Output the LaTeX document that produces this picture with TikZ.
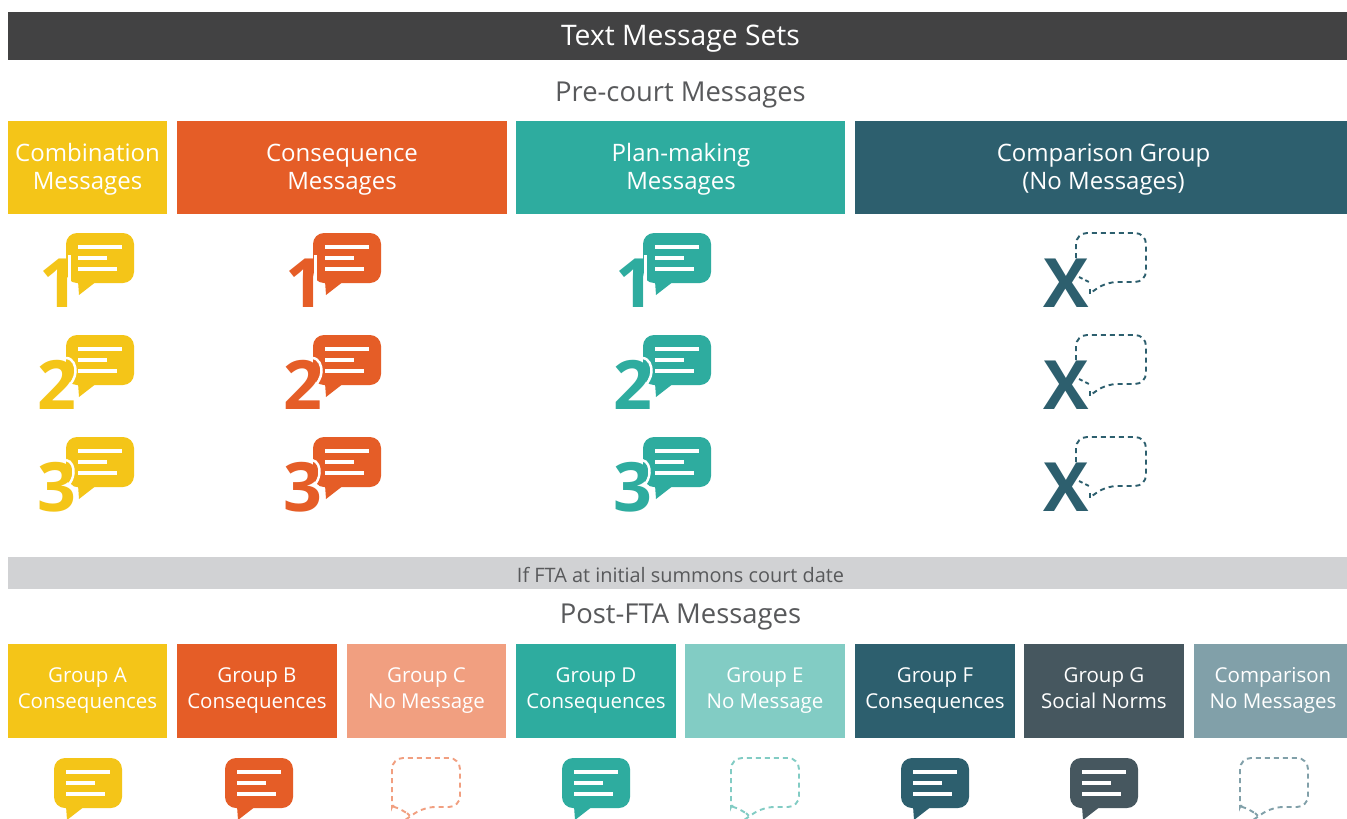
\documentclass[tikz,border=0pt]{standalone}
\usepackage{fontspec}
\setmainfont{Open Sans}
\definecolor{cDark}{HTML}{424243}
\definecolor{cGrey}{HTML}{D1D2D4}
\definecolor{cTitle}{HTML}{58595B}
\definecolor{cYel}{HTML}{F4C518}
\definecolor{cOra}{HTML}{E55D27}
\definecolor{cOraL}{HTML}{F19F80}
\definecolor{cTea}{HTML}{2EAC9F}
\definecolor{cTeaL}{HTML}{82CCC4}
\definecolor{cNav}{HTML}{2D5F6E}
\definecolor{cSla}{HTML}{46575F}
\definecolor{cCmp}{HTML}{81A0A9}
\tikzset{
  x=1pt,y=-1pt,
  title/.style={font=\fontsize{27.4}{30}\selectfont,text=cTitle,inner sep=0pt},
  hlab/.style={font=\fontsize{24}{28.5}\selectfont,text=white,align=center,inner sep=0pt},
  glab/.style={font=\fontsize{20.5}{26}\selectfont,text=white,align=center,inner sep=0pt},
  numlab/.style={font=\fontsize{68}{68}\bfseries\selectfont,inner sep=0pt,anchor=base},
  dashline/.style={line width=1.9pt,dash pattern=on 5pt off 4pt},
  halo/.style={white,line width=2.5pt},
}
% solid bubble: #1 x of left edge, #2 y of top edge, #3 colour
\newcommand{\solidbub}[3]{%
  \begin{scope}[shift={(#1,#2)}]
    \fill[#3,rounded corners=11pt] (0,0) rectangle (68,50);
    \fill[#3] (12,48) -- (13,62) -- (31,48) -- cycle;
    \draw[white,line width=3.2pt] (12,14) -- (56,14) (12,25) -- (41,25) (12,36) -- (51,36);
  \end{scope}}
\newcommand{\dashbub}[3]{%
  \begin{scope}[shift={(#1,#2)}]
    \draw[#3,dashline,rounded corners=11pt]
      (15,55) -- (10,50) .. controls (4,49) and (0,46) .. (0,38) -- (0,0) -- (68,0) -- (68,49) -- (32,49) -- (13,62);
  \end{scope}}
\newcommand{\xbub}[2]{%
  \begin{scope}[shift={(#1,#2)}]
    \draw[cNav,dashline,rounded corners=11pt]
      (0,25) -- (0,0) -- (70,0) -- (70,49) -- (30,49) -- (16,59);
    \draw[cNav,dashline,dash pattern=on 4pt off 3pt] (3,44) -- (15,50);
    \draw[cNav,dashline] (14,56) -- (14,61);
  \end{scope}}
% white edge between a digit and its bubble: #1 x of digit centre, #2 baseline, #3 digit
\newcommand{\digithalo}[3]{%
  \begin{scope}[shift={(#1,#2)}]
    \ifcase#3\or
      \draw[halo] (12.5,-52) -- (12.5,-22);
    \or
      \draw[halo] (9,-51) .. controls (16,-51) and (19,-43) .. (18.5,-37) .. controls (18,-31) and (15,-26) .. (9,-20);
    \or
      \draw[halo] (9,-51) .. controls (15,-50) and (17,-43) .. (16.5,-38) .. controls (16,-33) and (14,-29) .. (12,-27) .. controls (16,-24) and (19,-20) .. (19,-14);
    \fi
  \end{scope}}
\begin{document}
\begin{tikzpicture}
\useasboundingbox (0,0) rectangle (1347,819);
\fill[white] (0,0) rectangle (1347,819);
% header bands
\fill[cDark] (8,12) rectangle (1347,60);
\node[font=\fontsize{28.3}{30}\selectfont,text=white,inner sep=0pt] (tms) at (680.5,39) {Text Message Sets};
\node[title] (pre) at (680.5,95) {Pre-court Messages};
% column heads
\fill[cYel] (8,121) rectangle (167,214);
\fill[cOra] (177,121) rectangle (507,214);
\fill[cTea] (516,121) rectangle (845,214);
\fill[cNav] (855,121) rectangle (1347,214);
\node[hlab] (h1) at (87.5,169.5) {Combination\\Messages};
\node[hlab] (h2) at (342,169.5) {Consequence\\Messages};
\node[hlab] (h3) at (681,169.5) {Plan-making\\Messages};
\node[hlab] (h4) at (1103.5,169.5) {Comparison Group\\(No Messages)};
% message rows
\foreach \yy in {233,335,437}{
  \solidbub{66}{\yy}{cYel}
  \solidbub{313}{\yy}{cOra}
  \solidbub{643}{\yy}{cTea}
  \xbub{1076}{\yy}
}
\foreach \yy/\nn/\dd in {307/1/1.5,409/2/0,511/3/0}{
  \digithalo{57}{\yy}{\nn}
  \digithalo{303}{\yy}{\nn}
  \digithalo{633}{\yy}{\nn}
  \node[numlab,text=cYel] (ny\nn) at (57+\dd,\yy) {\nn};
  \node[numlab,text=cOra] (no\nn) at (303+\dd,\yy) {\nn};
  \node[numlab,text=cTea] (nt\nn) at (633+\dd,\yy) {\nn};
  \node[numlab,text=cNav] (nx\nn) at (1066.5,\yy) {X};
}
% divider
\fill[cGrey] (8,557) rectangle (1347,589);
\node[font=\fontsize{19.9}{22}\selectfont,text=cTitle,inner sep=0pt] (fta) at (680.5,575) {If FTA at initial summons court date};
\node[title] (post) at (680.5,617) {Post-FTA Messages};
% group heads
\foreach \xa/\xb/\cc in {8/167/cYel,177/337/cOra,347/506/cOraL,516/676/cTea,685/845/cTeaL,855/1015/cNav,1024/1184/cSla,1194/1347/cCmp}{
  \fill[\cc] (\xa,644) rectangle (\xb,738);
}
\node[glab] (g1) at (87.5,691) {Group A\\Consequences};
\node[glab] (g2) at (257,691) {Group B\\Consequences};
\node[glab] (g3) at (426.5,691) {Group C\\No Message};
\node[glab] (g4) at (596,691) {Group D\\Consequences};
\node[glab] (g5) at (765,691) {Group E\\No Message};
\node[glab] (g6) at (935,691) {Group F\\Consequences};
\node[glab] (g7) at (1104,691) {Group G\\Social Norms\vphantom{g}};
\node[glab] (g8) at (1273,690) {Comparison\\No Messages};
% bottom icons
\solidbub{54}{758}{cYel}
\solidbub{225}{758}{cOra}
\dashbub{392}{758}{cOraL}
\solidbub{562}{758}{cTea}
\dashbub{731}{758}{cTeaL}
\solidbub{901}{758}{cNav}
\solidbub{1070}{758}{cSla}
\dashbub{1240}{758}{cCmp}
\end{tikzpicture}
\end{document}
